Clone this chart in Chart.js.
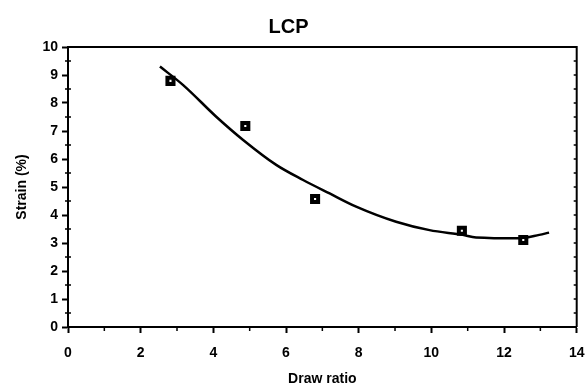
<!DOCTYPE html>
<html>
<head>
<meta charset="utf-8">
<script src="https://cdn.jsdelivr.net/npm/chart.js@4/dist/chart.umd.min.js"></script>
<style>
  html, body { margin: 0; padding: 0; background: #fff; }
  #wrap { width: 585px; height: 388px; }
</style>
</head>
<body>
<div id="wrap"><canvas id="lcpChart"></canvas></div>
<script>
// measured points
const drawRatio = [2.82, 4.88, 6.8, 10.84, 12.53];
const strain = [8.79, 7.18, 4.57, 3.44, 3.11];

// fitted curve
const fitX = [2.53, 3.17, 4.08, 4.82, 5.73, 6.47, 7.2, 7.93, 9.03, 9.95, 10.86, 11.23, 12.42, 12.97, 13.24];
const fitY = [9.3, 8.64, 7.51, 6.68, 5.79, 5.25, 4.77, 4.3, 3.76, 3.46, 3.29, 3.2, 3.17, 3.29, 3.37];

const xTicks = [0, 2, 4, 6, 8, 10, 12, 14];
const yTicks = [0, 1, 2, 3, 4, 5, 6, 7, 8, 9, 10];

const labelFont = { family: "'Liberation Sans', Arial, sans-serif", size: 14, weight: 'bold' };

// frame on top/right plus the small minor ticks
const frameTicks = {
    id: 'frameTicks',
    afterDraw(chart) {
        const { ctx, chartArea: a, scales: { x, y } } = chart;
        ctx.save();
        ctx.strokeStyle = '#000';
        ctx.lineWidth = 2;
        ctx.beginPath();
        ctx.moveTo(a.left, a.top);
        ctx.lineTo(a.right, a.top);
        ctx.lineTo(a.right, a.bottom);
        ctx.stroke();

        ctx.lineWidth = 1.5;
        ctx.beginPath();
        for (let v = 0.5; v < 10; v += 1) {
            const py = y.getPixelForValue(v);
            ctx.moveTo(a.left - 3, py);
            ctx.lineTo(a.left + 3, py);
        }
        for (let v = 0.5; v < 10; v += 0.5) {
            const py = y.getPixelForValue(v);
            ctx.moveTo(a.right - 3, py);
            ctx.lineTo(a.right, py);
        }
        for (let v = 1; v < 14; v += 2) {
            const px = x.getPixelForValue(v);
            ctx.moveTo(px, a.bottom);
            ctx.lineTo(px, a.bottom + 4);
        }
        ctx.stroke();
        ctx.restore();
    }
};

new Chart(document.getElementById('lcpChart'), {
    type: 'scatter',
    data: {
        datasets: [
            {
                label: 'LCP',
                data: drawRatio.map((v, i) => ({ x: v, y: strain[i] })),
                pointStyle: 'rect',
                pointRadius: 4.3,
                pointBorderWidth: 4,
                pointBackgroundColor: '#fff',
                pointBorderColor: '#000'
            },
            {
                label: 'fit',
                data: fitX.map((v, i) => ({ x: v, y: fitY[i] })),
                showLine: true,
                borderColor: '#000',
                borderWidth: 2.5,
                pointRadius: 0,
                cubicInterpolationMode: 'monotone'
            }
        ]
    },
    options: {
        responsive: true,
        maintainAspectRatio: false,
        animation: false,
        layout: { padding: { left: 0, right: 8, top: 0, bottom: 0 } },
        plugins: {
            legend: { display: false },
            tooltip: { enabled: false },
            title: {
                display: true,
                text: 'LCP',
                color: '#000',
                font: { family: "'Liberation Sans', Arial, sans-serif", size: 20, weight: 'bold' },
                padding: { top: 15, bottom: 8 }
            }
        },
        scales: {
            x: {
                type: 'linear',
                min: 0,
                max: 14,
                afterBuildTicks: s => { s.ticks = xTicks.map(v => ({ value: v })); },
                afterFit: s => { s.height = 61; s.paddingLeft = 0; s.paddingRight = 0; },
                ticks: { color: '#000', font: labelFont, padding: 12 },
                grid: { drawOnChartArea: false, tickLength: 6, tickWidth: 2, tickColor: '#000' },
                border: { color: '#000', width: 2 },
                title: {
                    display: true,
                    text: 'Draw ratio',
                    color: '#000',
                    font: labelFont,
                    padding: { top: 4, bottom: 0 }
                }
            },
            y: {
                type: 'linear',
                min: 0,
                max: 10,
                afterBuildTicks: s => { s.ticks = yTicks.map(v => ({ value: v })); },
                afterFit: s => { s.width = 68; s.paddingTop = 0; s.paddingBottom = 0; },
                ticks: { color: '#000', font: labelFont, padding: 4 },
                grid: { drawOnChartArea: false, tickLength: 6, tickWidth: 2, tickColor: '#000' },
                border: { color: '#000', width: 2 },
                title: {
                    display: true,
                    text: 'Strain (%)',
                    color: '#000',
                    font: labelFont,
                    padding: { top: 14, bottom: 0 }
                }
            }
        }
    },
    plugins: [frameTicks]
});
</script>
</body>
</html>
